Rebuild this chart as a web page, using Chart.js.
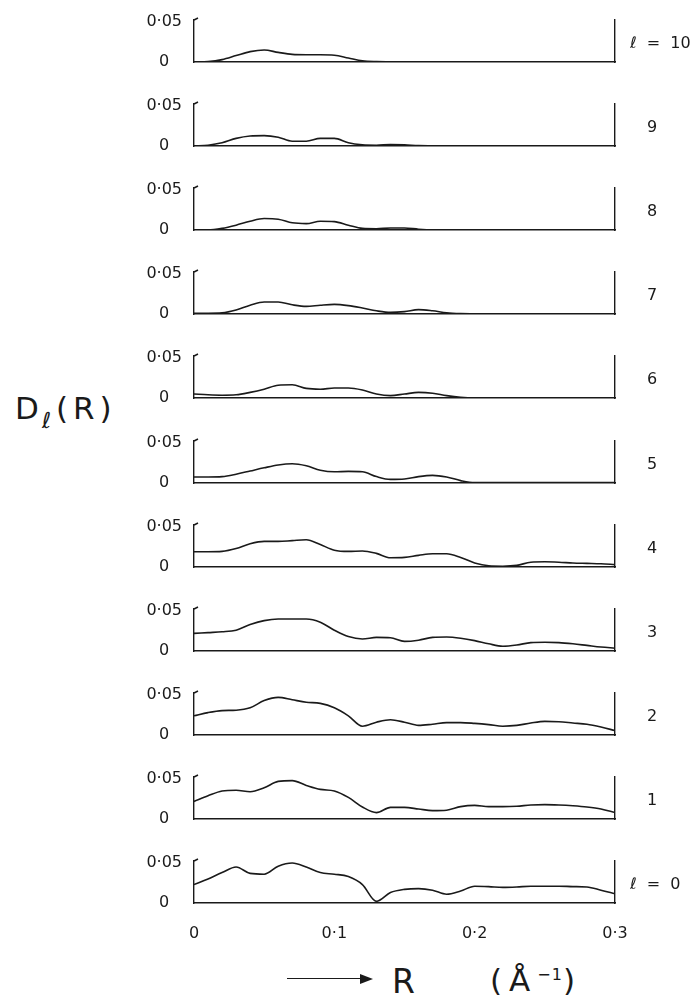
<!DOCTYPE html>
<html>
<head>
<meta charset="utf-8">
<script src="https://cdn.jsdelivr.net/npm/chart.js@4.4.1/dist/chart.umd.min.js"></script>
<style>
  body { margin: 0; background: #fff; }
  #wrap { position: relative; width: 694px; height: 999px; overflow: hidden; color: #1a1a1a;
          font-family: 'DejaVu Sans', sans-serif; }
  .panel { position: absolute; left: 0; }
  #ylab { position: absolute; left: 15px; top: 390px; font-size: 31px; letter-spacing: 5px; }
  #ylab sub { font-size: 22px; vertical-align: -9px; margin-left: -2px; }
  #arrow { position: absolute; left: 287px; top: 978px; width: 74px; border-top: 1.5px solid #1a1a1a; }
  #arrowhead { position: absolute; left: 360px; top: 974px; width: 0; height: 0;
               border-top: 5px solid transparent; border-bottom: 5px solid transparent; border-left: 13px solid #1a1a1a; }
  #rlab { position: absolute; left: 392px; top: 962px; font-size: 33px; }
  #unit { position: absolute; left: 490px; top: 962px; font-size: 31px; letter-spacing: 7px; }
  #unit sup { font-size: 16px; letter-spacing: 1px; }
</style>
</head>
<body>
<div id="wrap">
  <div id="ylab">D<sub>ℓ</sub>(R)</div>
  <div id="arrow"></div><div id="arrowhead"></div>
  <div id="rlab">R</div>
  <div id="unit">(Å<sup>−1</sup>)</div>
</div>
<script>
var R = [0, 0.01, 0.02, 0.03, 0.04, 0.05, 0.06, 0.07, 0.08, 0.09, 0.10,
         0.11, 0.12, 0.13, 0.14, 0.15, 0.16, 0.17, 0.18, 0.19, 0.20,
         0.21, 0.22, 0.23, 0.24, 0.25, 0.26, 0.27, 0.28, 0.29, 0.30];

var D10 = [0, 0.0005, 0.003, 0.008, 0.013, 0.015, 0.012, 0.0095, 0.009, 0.009, 0.0085,
           0.005, 0.0015, 0.0005, 0.0003, 0.0003, 0.0003, 0.0003, 0.0003, 0.0003, 0.0003,
           0.0003, 0.0003, 0.0003, 0.0003, 0.0003, 0.0003, 0.0003, 0.0003, 0.0003, 0.0003];
var D9 = [0, 0.001, 0.004, 0.0095, 0.0125, 0.013, 0.011, 0.006, 0.006, 0.0095, 0.0095,
          0.004, 0.0015, 0.001, 0.0018, 0.0015, 0.0005, 0.0003, 0.0003, 0.0003, 0.0003,
          0.0003, 0.0003, 0.0003, 0.0003, 0.0003, 0.0003, 0.0003, 0.0003, 0.0003, 0.0003];
var D8 = [0, 0, 0.002, 0.006, 0.011, 0.0143, 0.0135, 0.009, 0.008, 0.011, 0.0105,
          0.006, 0.002, 0.0015, 0.0025, 0.0025, 0.001, 0.0003, 0.0003, 0.0003, 0.0003,
          0.0003, 0.0003, 0.0003, 0.0003, 0.0003, 0.0003, 0.0003, 0.0003, 0.0003, 0.0003];
var D7 = [0.001, 0.001, 0.0015, 0.005, 0.011, 0.015, 0.015, 0.0115, 0.0095, 0.011, 0.012,
          0.0105, 0.0075, 0.004, 0.002, 0.003, 0.0055, 0.004, 0.0015, 0.0005, 0.0003,
          0.0003, 0.0003, 0.0003, 0.0003, 0.0003, 0.0003, 0.0003, 0.0003, 0.0003, 0.0003];
var D6 = [0.005, 0.004, 0.0035, 0.004, 0.007, 0.011, 0.016, 0.0165, 0.012, 0.011, 0.0125,
          0.0125, 0.01, 0.005, 0.003, 0.005, 0.007, 0.006, 0.003, 0.001, 0.0003,
          0.0003, 0.0003, 0.0003, 0.0003, 0.0003, 0.0003, 0.0003, 0.0003, 0.0003, 0.0003];
var D5 = [0.0075, 0.0075, 0.008, 0.011, 0.015, 0.019, 0.0225, 0.024, 0.0215, 0.016, 0.014,
          0.0145, 0.014, 0.008, 0.0045, 0.005, 0.008, 0.0095, 0.0075, 0.003, 0.0005,
          0.0005, 0.0005, 0.0005, 0.0005, 0.0005, 0.0005, 0.0005, 0.0005, 0.0005, 0.0005];
var D4 = [0.019, 0.019, 0.0195, 0.023, 0.029, 0.032, 0.032, 0.033, 0.034, 0.028, 0.021,
          0.0195, 0.02, 0.017, 0.0115, 0.012, 0.0145, 0.0165, 0.0165, 0.012, 0.005,
          0.0015, 0.001, 0.002, 0.006, 0.0065, 0.006, 0.005, 0.0045, 0.004, 0.003];
var D3 = [0.022, 0.023, 0.024, 0.026, 0.033, 0.038, 0.04, 0.04, 0.04, 0.036, 0.026,
          0.018, 0.015, 0.017, 0.0165, 0.012, 0.0135, 0.017, 0.0175, 0.016, 0.013,
          0.009, 0.006, 0.0075, 0.0105, 0.011, 0.0105, 0.009, 0.007, 0.005, 0.0035];
var D2 = [0.024, 0.028, 0.0305, 0.031, 0.034, 0.043, 0.047, 0.044, 0.041, 0.0395, 0.034,
          0.024, 0.011, 0.016, 0.019, 0.016, 0.012, 0.0135, 0.0155, 0.0155, 0.0145,
          0.013, 0.011, 0.012, 0.015, 0.017, 0.0165, 0.015, 0.0135, 0.01, 0.0055];
var D1 = [0.022, 0.029, 0.035, 0.036, 0.034, 0.039, 0.047, 0.048, 0.042, 0.037, 0.035,
          0.027, 0.015, 0.008, 0.0145, 0.0145, 0.0125, 0.0105, 0.011, 0.0155, 0.017,
          0.0155, 0.0155, 0.016, 0.0175, 0.018, 0.0175, 0.0165, 0.015, 0.0125, 0.008];
var D0 = [0.023, 0.03, 0.038, 0.045, 0.037, 0.036, 0.046, 0.05, 0.045, 0.038, 0.036,
          0.033, 0.023, 0.002, 0.013, 0.017, 0.018, 0.016, 0.011, 0.015, 0.021,
          0.0205, 0.0195, 0.02, 0.021, 0.021, 0.021, 0.0205, 0.02, 0.016, 0.0115];

var orders = [10, 9, 8, 7, 6, 5, 4, 3, 2, 1, 0];
var series = [D10, D9, D8, D7, D6, D5, D4, D3, D2, D1, D0];
var yTicks = [0, 0.05];
var xTicks = [0, 0.1, 0.2, 0.3];

var ink = '#1a1a1a';
var font = "'DejaVu Sans', sans-serif";
Chart.defaults.font.family = font;
Chart.defaults.font.size = 16;
Chart.defaults.color = ink;

function fmt(v) {
    return v === 0 ? '0' : String(v).replace('.', '\u00b7');
}

// bracket hook at top of the left axis + the l = n label on the right
var decor = {
    id: 'decor',
    afterDraw: function (chart) {
        var o = chart.options.plugins.decor;
        var a = chart.chartArea, ctx = chart.ctx;
        ctx.save();
        ctx.strokeStyle = ink;
        ctx.lineWidth = 1.4;
        ctx.beginPath();
        ctx.moveTo(a.left, a.top);
        ctx.lineTo(a.left + 4, a.top - 2);
        ctx.stroke();
        ctx.fillStyle = ink;
        ctx.font = '16px ' + font;
        ctx.textBaseline = 'middle';
        if (o.long) {
            ctx.textAlign = 'left';
            ctx.fillText(o.text, 630, a.bottom - 18);
        } else {
            ctx.textAlign = 'center';
            ctx.fillText(o.text, 652, a.bottom - 18);
        }
        ctx.restore();
    }
};

var wrap = document.getElementById('wrap');
var top0 = 62, pitch = 84.1;

orders.forEach(function (l, i) {
    var last = i === orders.length - 1;
    var h = last ? 110 : 70;
    var baseline = top0 + pitch * i;
    var canvas = document.createElement('canvas');
    canvas.className = 'panel';
    canvas.width = 694;
    canvas.height = h;
    canvas.style.top = Math.round(baseline - 56) + 'px';
    wrap.appendChild(canvas);

    new Chart(canvas.getContext('2d'), {
        type: 'line',
        data: {
            labels: R,
            datasets: [{
                data: series[i].map(function (v, k) { return { x: R[k], y: v }; }),
                borderColor: ink,
                borderWidth: 1.6,
                pointRadius: 0,
                fill: false,
                cubicInterpolationMode: 'monotone'
            }]
        },
        options: {
            responsive: false,
            animation: false,
            devicePixelRatio: 1,
            layout: { autoPadding: false, padding: { top: 14, bottom: 14, left: 0, right: 79 } },
            plugins: {
                legend: { display: false },
                tooltip: { enabled: false },
                decor: { text: (l === 10 || l === 0) ? '\u2113  =  ' + l : String(l), long: l === 10 || l === 0 }
            },
            scales: {
                x: {
                    type: 'linear',
                    min: 0,
                    max: 0.3,
                    afterBuildTicks: function (axis) {
                        axis.ticks = xTicks.map(function (v) { return { value: v }; });
                    },
                    afterFit: function (axis) {
                        axis.height = last ? 40 : 0;
                        axis.paddingLeft = 0;
                        axis.paddingRight = 0;
                    },
                    grid: { display: false, drawTicks: false },
                    border: { display: true, color: ink, width: 1.6 },
                    ticks: {
                        display: last,
                        padding: 21,
                        maxRotation: 0,
                        callback: function (v) { return fmt(v); }
                    }
                },
                y: {
                    min: 0,
                    max: 0.0525,
                    afterBuildTicks: function (axis) {
                        axis.ticks = yTicks.map(function (v) { return { value: v }; });
                    },
                    afterFit: function (axis) {
                        // keep the tick padding horizontal only
                        axis.width = 194;
                        axis.paddingTop = 0;
                        axis.paddingBottom = 0;
                    },
                    grid: { display: false, drawTicks: false },
                    border: { display: true, color: ink, width: 1.4 },
                    ticks: {
                        crossAlign: 'center',
                        padding: 12,
                        callback: function (v) { return fmt(v); }
                    }
                },
                y2: {
                    position: 'right',
                    min: 0,
                    max: 1,
                    afterFit: function (axis) { axis.width = 0; },
                    grid: { display: false, drawTicks: false },
                    border: { display: true, color: ink, width: 1.4 },
                    ticks: { display: false }
                }
            }
        },
        plugins: [decor]
    });
});
</script>
</body>
</html>
